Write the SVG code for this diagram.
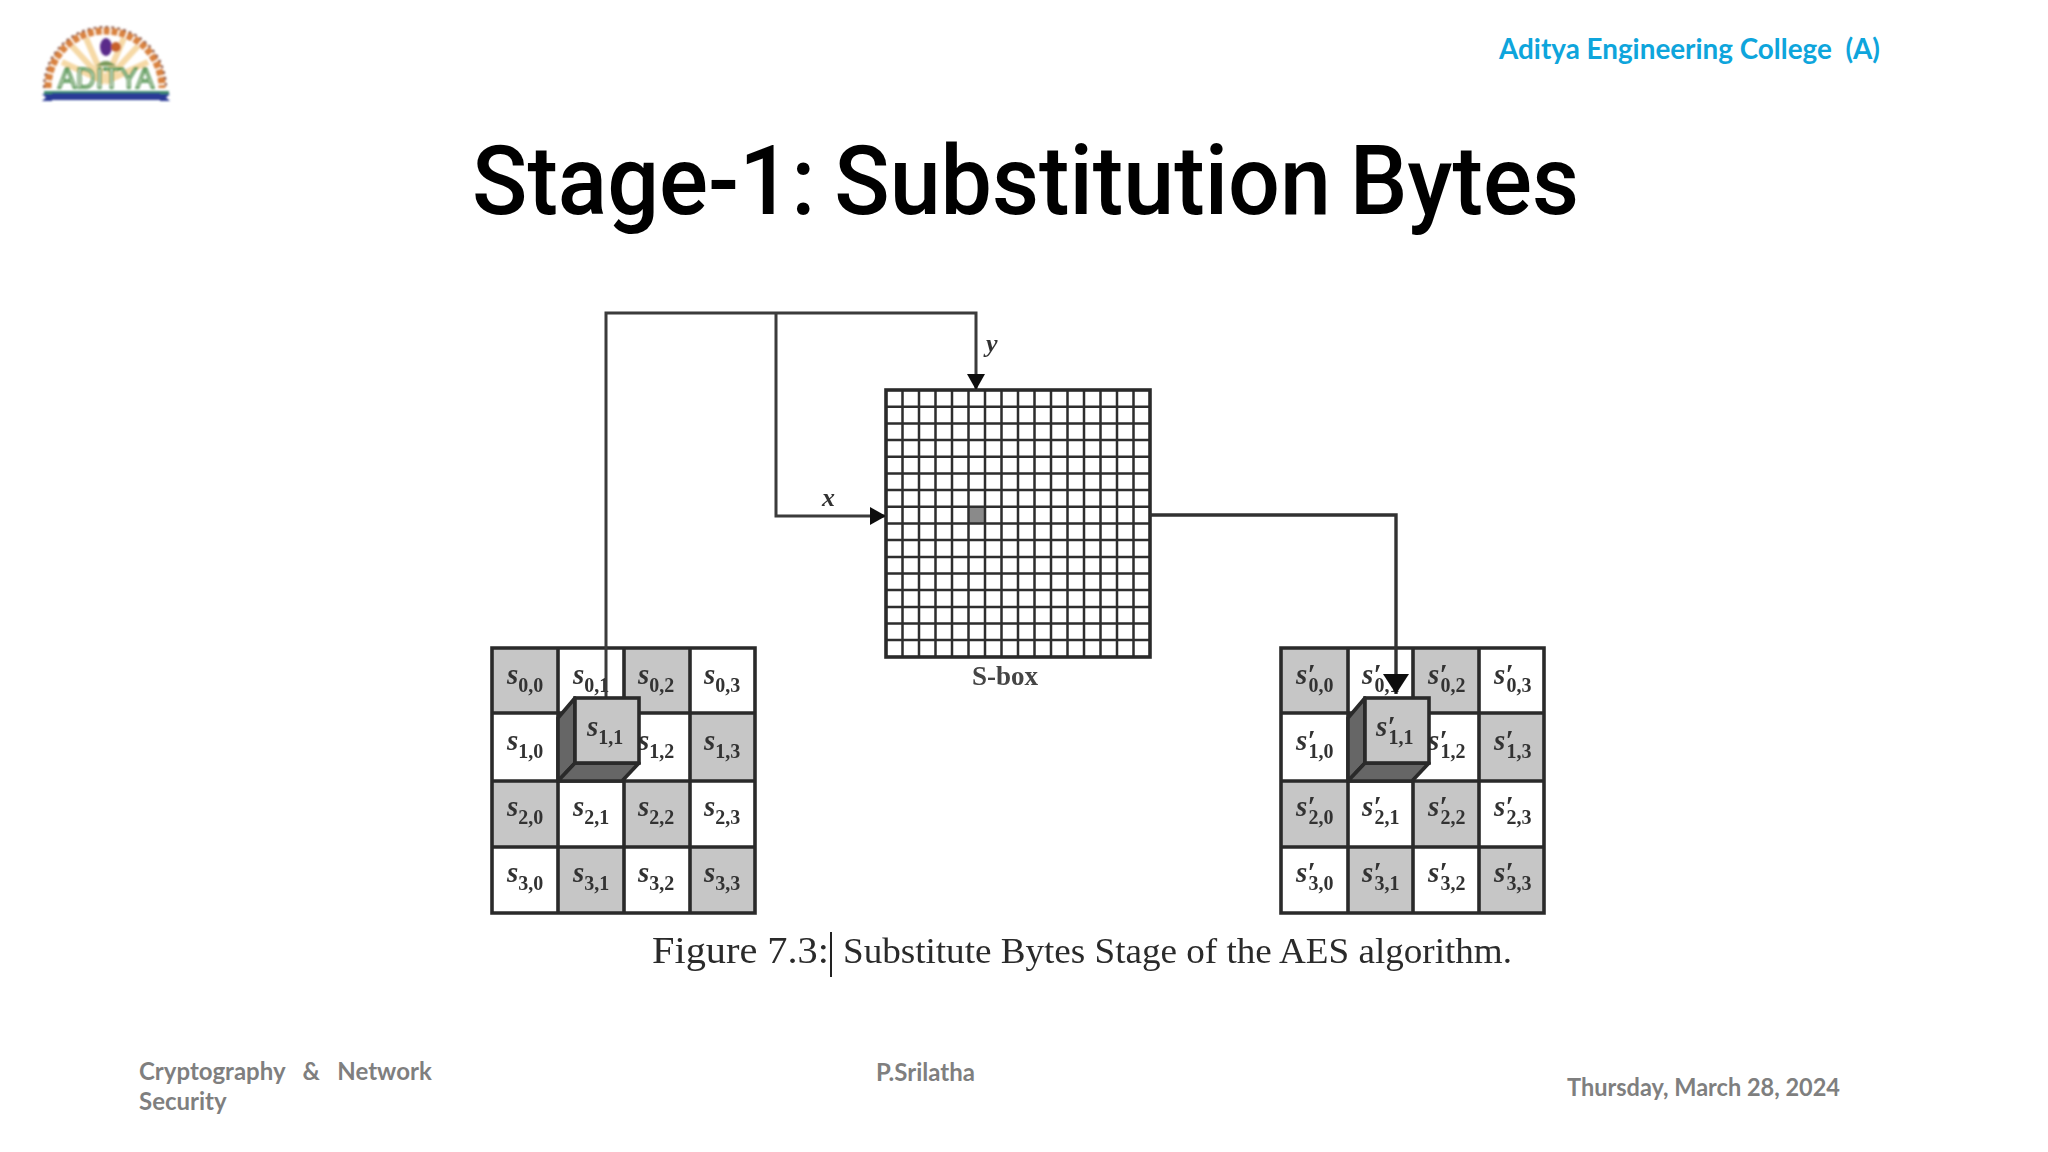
<svg xmlns="http://www.w3.org/2000/svg" width="2048" height="1152" viewBox="0 0 2048 1152">
<style>
.title{font-family:"Roboto","Liberation Sans",sans-serif;font-weight:500;font-size:97px;fill:#000;word-spacing:-4px}
.college{font-family:"Lato","Liberation Sans",sans-serif;font-weight:700;font-size:28px;fill:#0ea5dc;white-space:pre}
.foot{font-family:"Lato","Liberation Sans",sans-serif;font-weight:700;font-size:24px;fill:#7f7f7f;white-space:pre}
.cap{font-family:"Liberation Serif",serif;font-size:38px;fill:#2a2a2a}
.capb{font-family:"Liberation Serif",serif;font-size:35px;fill:#2a2a2a}
.s{font-family:"Liberation Serif",serif;font-weight:700;font-style:italic;font-size:29px;fill:#333}
.p{letter-spacing:-7px}
.sub{font-family:"Liberation Serif",serif;font-weight:700;font-style:normal;font-size:20px}
.lab{font-family:"Liberation Serif",serif;font-weight:700;font-style:italic;font-size:26px;fill:#333}
.sb{font-family:"Liberation Serif",serif;font-weight:700;font-size:27px;fill:#444}
.g{fill:#c6c6c6}
.w{fill:#fff}
.ln{fill:none;stroke:#2a2a2a;stroke-width:3.6}
.conn{fill:none;stroke:#3a3a3a;stroke-width:3}
.conn2{fill:none;stroke:#333;stroke-width:3.4}
.thin{fill:none;stroke:#2e2e2e;stroke-width:2.5}
.side{fill:#666;stroke:#2a2a2a;stroke-width:3.6;stroke-linejoin:round}
.face{fill:#c6c6c6;stroke:#2a2a2a;stroke-width:3.6}
</style>
<defs>
<filter id="soft" x="-5%" y="-5%" width="110%" height="110%"><feGaussianBlur stdDeviation="0.7"/></filter>
<filter id="softer" x="-5%" y="-5%" width="110%" height="110%"><feGaussianBlur stdDeviation="1"/></filter>
<marker id="ah" markerUnits="userSpaceOnUse" markerWidth="20" markerHeight="20" refX="16" refY="9" orient="auto"><path d="M0 0L16 9L0 18Z" fill="#111"/></marker>
<marker id="ahb" markerUnits="userSpaceOnUse" markerWidth="26" markerHeight="28" refX="20" refY="13" orient="auto"><path d="M0 0L20 13L0 26Z" fill="#111"/></marker>
</defs>
<rect width="2048" height="1152" fill="#fff"/>

<g id="logo" filter="url(#softer)">
<g stroke="#f6d9a6" stroke-width="6" fill="none">
<path d="M105 82L62 62M105 82L72 46M105 82L86 38M105 82L124 38M105 82L138 46M105 82L148 62"/>
</g>
<path d="M48 88A57 57 0 0 1 162 88" fill="none" stroke="#d9823f" stroke-width="7" stroke-dasharray="6 2"/>
<path d="M44 88A61 61 0 0 1 166 88" fill="none" stroke="#8c5a4a" stroke-width="2" stroke-dasharray="3 3"/>
<ellipse cx="106" cy="47" rx="6" ry="9" fill="#5a2a8a"/>
<circle cx="116" cy="47" r="5" fill="#c8602a"/>
<path d="M96 66Q106 56 116 66Z" fill="#7a9a5a"/>
<text x="58" y="88" font-family="Liberation Sans,sans-serif" font-size="30" font-weight="400" fill="#eef6e6" stroke="#3c8a3c" stroke-width="1.5" textLength="96" lengthAdjust="spacingAndGlyphs">ADITYA</text>
<rect x="44" y="91" width="125" height="3" fill="#3c8a6c"/>
<rect x="52" y="93" width="108" height="7" fill="#2a3a96"/>
<path d="M42 94L52 94L52 101L42 101L46 97.5ZM170 94L160 94L160 101L170 101L166 97.5Z" fill="#2a3a96"/>
</g>

<text id="college" class="college" x="1499" y="59" textLength="381" lengthAdjust="spacingAndGlyphs">Aditya Engineering College  (A)</text>
<text id="title" class="title" x="472" y="214" textLength="1107" lengthAdjust="spacingAndGlyphs">Stage-1: Substitution Bytes</text>

<g id="figure" filter="url(#soft)">
<g id="sbox">
<rect x="886" y="390" width="264" height="267" fill="#fff"/>
<rect x="968.5" y="506.8" width="16.5" height="16.7" fill="#8a8a8a"/>
<path class="thin" d="M902.5 390V657M919 390V657M935.5 390V657M952 390V657M968.5 390V657M985 390V657M1001.5 390V657M1018 390V657M1034.5 390V657M1051 390V657M1067.5 390V657M1084 390V657M1100.5 390V657M1117 390V657M1133.5 390V657M886 406.7H1150M886 423.4H1150M886 440H1150M886 456.8H1150M886 473.4H1150M886 490H1150M886 506.8H1150M886 523.5H1150M886 540H1150M886 557H1150M886 573.5H1150M886 590H1150M886 607H1150M886 623.5H1150M886 640H1150"/>
<rect x="886" y="390" width="264" height="267" class="ln"/>
<text class="sb" x="972" y="685">S-box</text>
</g>

<g id="state-left">
<rect class="g" x="492" y="648" width="66" height="65"/><rect class="w" x="558" y="648" width="66" height="65"/><rect class="g" x="624" y="648" width="66" height="65"/><rect class="w" x="690" y="648" width="65" height="65"/>
<rect class="w" x="492" y="713" width="66" height="68"/><rect class="g" x="558" y="713" width="66" height="68"/><rect class="w" x="624" y="713" width="66" height="68"/><rect class="g" x="690" y="713" width="65" height="68"/>
<rect class="g" x="492" y="781" width="66" height="66"/><rect class="w" x="558" y="781" width="66" height="66"/><rect class="g" x="624" y="781" width="66" height="66"/><rect class="w" x="690" y="781" width="65" height="66"/>
<rect class="w" x="492" y="847" width="66" height="66"/><rect class="g" x="558" y="847" width="66" height="66"/><rect class="w" x="624" y="847" width="66" height="66"/><rect class="g" x="690" y="847" width="65" height="66"/>
<path class="ln" d="M492 648H755V913H492ZM558 648V913M624 648V913M690 648V913M492 713H755M492 781H755M492 847H755"/>
<text class="s" x="507" y="684">s<tspan class="sub" dy="8">0,0</tspan></text>
<text class="s" x="573" y="684">s<tspan class="sub" dy="8">0,1</tspan></text>
<text class="s" x="638" y="684">s<tspan class="sub" dy="8">0,2</tspan></text>
<text class="s" x="704" y="684">s<tspan class="sub" dy="8">0,3</tspan></text>
<text class="s" x="507" y="750">s<tspan class="sub" dy="8">1,0</tspan></text>
<text class="s" x="638" y="750">s<tspan class="sub" dy="8">1,2</tspan></text>
<text class="s" x="704" y="750">s<tspan class="sub" dy="8">1,3</tspan></text>
<text class="s" x="507" y="816">s<tspan class="sub" dy="8">2,0</tspan></text>
<text class="s" x="573" y="816">s<tspan class="sub" dy="8">2,1</tspan></text>
<text class="s" x="638" y="816">s<tspan class="sub" dy="8">2,2</tspan></text>
<text class="s" x="704" y="816">s<tspan class="sub" dy="8">2,3</tspan></text>
<text class="s" x="507" y="882">s<tspan class="sub" dy="8">3,0</tspan></text>
<text class="s" x="573" y="882">s<tspan class="sub" dy="8">3,1</tspan></text>
<text class="s" x="638" y="882">s<tspan class="sub" dy="8">3,2</tspan></text>
<text class="s" x="704" y="882">s<tspan class="sub" dy="8">3,3</tspan></text>
</g>

<g id="state-right">
<rect class="g" x="1281" y="648" width="67" height="65"/><rect class="w" x="1348" y="648" width="65" height="65"/><rect class="g" x="1413" y="648" width="66" height="65"/><rect class="w" x="1479" y="648" width="65" height="65"/>
<rect class="w" x="1281" y="713" width="67" height="68"/><rect class="g" x="1348" y="713" width="65" height="68"/><rect class="w" x="1413" y="713" width="66" height="68"/><rect class="g" x="1479" y="713" width="65" height="68"/>
<rect class="g" x="1281" y="781" width="67" height="66"/><rect class="w" x="1348" y="781" width="65" height="66"/><rect class="g" x="1413" y="781" width="66" height="66"/><rect class="w" x="1479" y="781" width="65" height="66"/>
<rect class="w" x="1281" y="847" width="67" height="66"/><rect class="g" x="1348" y="847" width="65" height="66"/><rect class="w" x="1413" y="847" width="66" height="66"/><rect class="g" x="1479" y="847" width="65" height="66"/>
<path class="ln" d="M1281 648H1544V913H1281ZM1348 648V913M1413 648V913M1479 648V913M1281 713H1544M1281 781H1544M1281 847H1544"/>
<text class="s" x="1296" y="684">s<tspan class="p">′</tspan><tspan class="sub" dy="8">0,0</tspan></text>
<text class="s" x="1362" y="684">s<tspan class="p">′</tspan><tspan class="sub" dy="8">0,1</tspan></text>
<text class="s" x="1428" y="684">s<tspan class="p">′</tspan><tspan class="sub" dy="8">0,2</tspan></text>
<text class="s" x="1494" y="684">s<tspan class="p">′</tspan><tspan class="sub" dy="8">0,3</tspan></text>
<text class="s" x="1296" y="750">s<tspan class="p">′</tspan><tspan class="sub" dy="8">1,0</tspan></text>
<text class="s" x="1428" y="750">s<tspan class="p">′</tspan><tspan class="sub" dy="8">1,2</tspan></text>
<text class="s" x="1494" y="750">s<tspan class="p">′</tspan><tspan class="sub" dy="8">1,3</tspan></text>
<text class="s" x="1296" y="816">s<tspan class="p">′</tspan><tspan class="sub" dy="8">2,0</tspan></text>
<text class="s" x="1362" y="816">s<tspan class="p">′</tspan><tspan class="sub" dy="8">2,1</tspan></text>
<text class="s" x="1428" y="816">s<tspan class="p">′</tspan><tspan class="sub" dy="8">2,2</tspan></text>
<text class="s" x="1494" y="816">s<tspan class="p">′</tspan><tspan class="sub" dy="8">2,3</tspan></text>
<text class="s" x="1296" y="882">s<tspan class="p">′</tspan><tspan class="sub" dy="8">3,0</tspan></text>
<text class="s" x="1362" y="882">s<tspan class="p">′</tspan><tspan class="sub" dy="8">3,1</tspan></text>
<text class="s" x="1428" y="882">s<tspan class="p">′</tspan><tspan class="sub" dy="8">3,2</tspan></text>
<text class="s" x="1494" y="882">s<tspan class="p">′</tspan><tspan class="sub" dy="8">3,3</tspan></text>
</g>

<g id="connectors">
<path class="conn" d="M606 698V313H976V390" marker-end="url(#ah)"/>
<path class="conn" d="M776 313V516H886" marker-end="url(#ah)"/>
<path class="conn2" d="M1150 515H1396V694" marker-end="url(#ahb)"/>
<text class="lab" x="986" y="352">y</text>
<text class="lab" x="822" y="506">x</text>
</g>

<g id="cube-left">
<path class="side" d="M558 781V718L575 698V763Z"/>
<path class="side" d="M558 781L575 763H639L622 781Z"/>
<rect class="face" x="575" y="698" width="64" height="65"/>
<text class="s" x="587" y="736">s<tspan class="sub" dy="8">1,1</tspan></text>
</g>

<g id="cube-right">
<path class="side" d="M1348 781V718L1365 698V763Z"/>
<path class="side" d="M1348 781L1365 763H1429L1412 781Z"/>
<rect class="face" x="1365" y="698" width="64" height="65"/>
<text class="s" x="1376" y="736">s<tspan class="p">′</tspan><tspan class="sub" dy="8">1,1</tspan></text>
</g>

<text id="caption-a" class="cap" x="652" y="963" textLength="177" lengthAdjust="spacingAndGlyphs">Figure 7.3:</text>
<rect id="caret" x="830" y="932" width="2" height="45" fill="#222"/>
<text id="caption-b" class="capb" x="843" y="963" textLength="669" lengthAdjust="spacingAndGlyphs">Substitute Bytes Stage of the AES algorithm.</text>
</g>

<g id="footer">
<text class="foot" x="139" y="1080">Cryptography   &amp;   Network</text>
<text class="foot" x="139" y="1110">Security</text>
<text class="foot" x="876" y="1081">P.Srilatha</text>
<text class="foot" x="1567" y="1096" textLength="273" lengthAdjust="spacingAndGlyphs">Thursday, March 28, 2024</text>
</g>
</svg>
